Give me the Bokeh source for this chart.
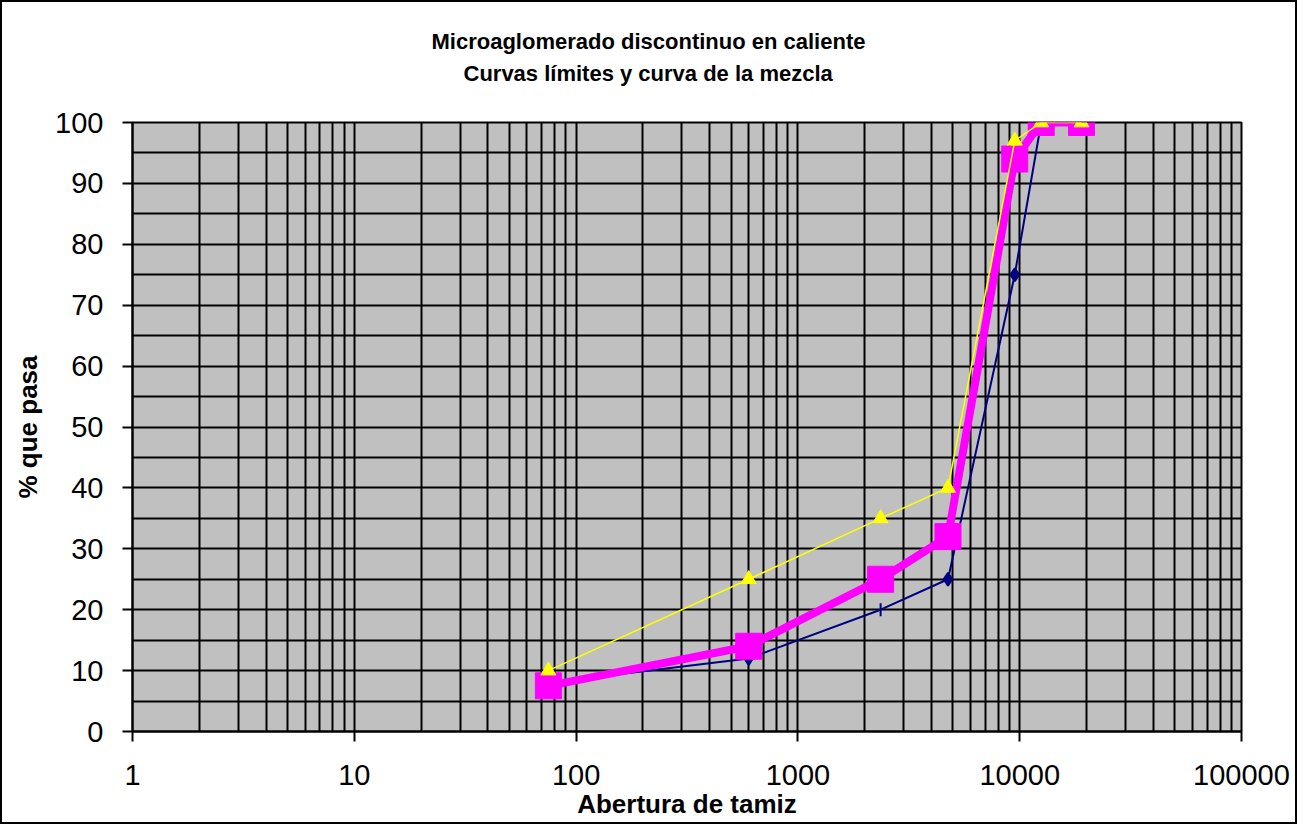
from bokeh.plotting import figure
from bokeh.models import FixedTicker, Range1d, Title, CustomJSTickFormatter, ColumnDataSource
from bokeh.embed import file_html
from bokeh.resources import INLINE
import math

# ---- data ----
sieve = [75, 600, 2360, 4750, 9500, 12500, 19000]
upper_limit = [10, 25, 35, 40, 97, 100, 100]
lower_limit = [8, 12, 20, 25, 75, 100, 100]
lower_markers = ["diamond", "diamond", "dash", "diamond", "diamond", "diamond", "diamond"]
lower_angles = [0, 0, math.pi / 2, 0, 0, 0, 0]
mix = [7.5, 14, 25, 32, 94, 100, 100]

x_ticks = [1, 10, 100, 1000, 10000, 100000]
y_ticks = [0, 10, 20, 30, 40, 50, 60, 70, 80, 90, 100]
title_lines = ["Microaglomerado discontinuo en caliente", "Curvas límites y curva de la mezcla"]
x_title = "Abertura de tamiz"
y_title = "% que pasa"

FONT = "Liberation Sans"

p = figure(width=1297, height=824, x_axis_type="log", output_backend="svg",
           toolbar_location=None, x_range=Range1d(1, 100000), y_range=Range1d(0, 100))
p.min_border_left = 130
p.min_border_right = 58
p.min_border_top = 120
p.min_border_bottom = 95
p.background_fill_color = "#C0C0C0"
p.border_fill_color = "white"
p.outline_line_color = "black"
p.outline_line_width = 2
p.styles = {"border": "2px solid black", "box-sizing": "border-box"}

minor_x = [m * d for d in x_ticks[:-1] for m in range(2, 10)]
p.xaxis.ticker = FixedTicker(ticks=x_ticks, minor_ticks=minor_x)
p.xaxis.formatter = CustomJSTickFormatter(code="return tick.toFixed(0);")
minor_y = [v + 5 for v in y_ticks[:-1]]
p.yaxis.ticker = FixedTicker(ticks=y_ticks, minor_ticks=minor_y)

for ax in (p.xaxis, p.yaxis):
    ax.major_label_text_font = FONT
    ax.major_label_text_font_size = "29px"
    ax.major_label_text_color = "black"
    ax.axis_label_text_font = FONT
    ax.axis_label_text_font_style = "bold"
    ax.axis_label_text_font_size = "26px"
    ax.axis_label_text_color = "black"
    ax.major_tick_in = 0
    ax.major_tick_out = 10
    ax.minor_tick_in = 0
    ax.minor_tick_out = 0
    ax.axis_line_color = "black"
    ax.axis_line_width = 2
    ax.major_tick_line_width = 2
    ax.major_tick_line_color = "black"

p.xaxis.axis_label = x_title
p.yaxis.axis_label = y_title
p.xaxis.major_label_standoff = 23
p.xaxis.axis_label_standoff = 1
p.yaxis.major_label_standoff = 19
p.yaxis.axis_label_standoff = 9

for g in (p.xgrid, p.ygrid):
    g.grid_line_color = "black"
    g.grid_line_width = 2
    g.grid_line_alpha = 1
    g.minor_grid_line_color = "black"
    g.minor_grid_line_width = 2
p.xgrid.ticker = p.xaxis.ticker
p.ygrid.ticker = p.yaxis.ticker

# lower limit (navy)
src_low = ColumnDataSource(dict(x=sieve, y=lower_limit, m=lower_markers, a=lower_angles))
p.line("x", "y", source=src_low, line_color="#000080", line_width=2)
p.scatter("x", "y", source=src_low, marker="m", angle="a", size=13,
          fill_color="#000080", line_color="#000080", line_width=2)

# mix (magenta)
p.line(sieve, mix, line_color="#FF00FF", line_width=8)
p.scatter(sieve, mix, marker="square", size=26, fill_color="#FF00FF", line_color="#FF00FF")

# upper limit (yellow)
p.line(sieve, upper_limit, line_color="#FFFF00", line_width=1.5)
p.scatter(sieve, upper_limit, marker="triangle", size=15, fill_color="#FFFF00", line_color="#FFFF00")

# title (two lines, closest line added first)
t2 = Title(text=title_lines[1], align="left", offset=331, standoff=74, text_font=FONT,
           text_font_style="bold", text_font_size="22px", text_color="black")
t1 = Title(text=title_lines[0], align="left", offset=299, standoff=-65, text_font=FONT,
           text_font_style="bold", text_font_size="22px", text_color="black")
p.add_layout(t2, "above")
p.add_layout(t1, "above")

open("out.html", "w").write(file_html(p, INLINE))
